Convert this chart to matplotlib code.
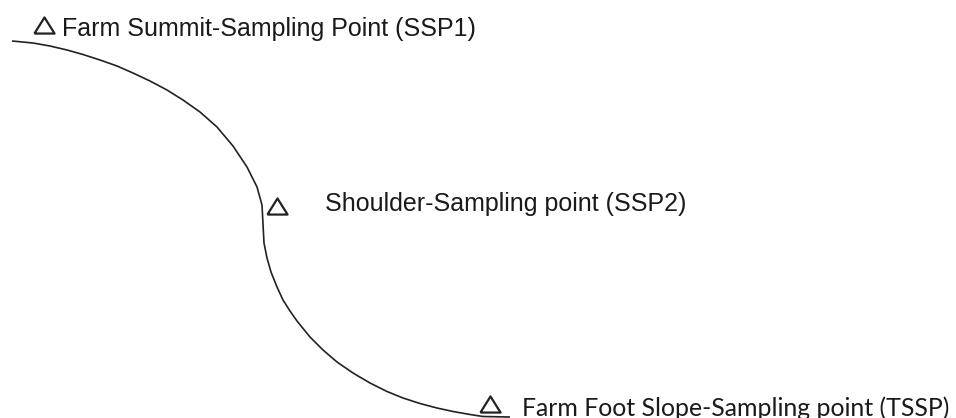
import matplotlib
matplotlib.use("Agg")
import matplotlib.pyplot as plt

# slope profile (x to the right, y downwards)
profile_x = [12, 33, 50, 67, 83, 100, 117, 133, 150, 167, 183, 200, 217,
             233, 247, 257, 262, 263, 264, 267, 271, 277, 283, 290, 297,
             310, 323, 337, 353, 370, 387, 403, 420, 437, 453, 470, 483, 510]
profile_y = [41, 43, 46, 50, 54.5, 60, 66, 73, 81, 90, 100, 112, 127,
             146, 167, 187, 205, 224, 243, 258, 272, 287, 300, 311, 321,
             337, 350, 362, 373, 383, 391.5, 398, 403.5, 408, 411.5, 414.5,
             416.5, 417]

# sampling points and their labels
point_x = [44, 277, 490]
point_y = [25, 206, 404]
labels = ["Farm Summit-Sampling Point (SSP1)",
          "Shoulder-Sampling point (SSP2)",
          "Farm Foot Slope-Sampling point (TSSP)"]
label_x = [62, 325, 522]
label_y = [36, 211, 416]
label_font = ["Liberation Sans", "Liberation Sans", "Lato"]
label_size = [18, 18, 17.9]

fig = plt.figure(figsize=(9.56, 4.18), dpi=100)
ax = fig.add_axes([0, 0, 1, 1])
ax.set_xlim(0, 956)
ax.set_ylim(418, 0)
ax.axis("off")

ax.plot(profile_x, profile_y, color="#222222", lw=1.2,
        solid_joinstyle="round", solid_capstyle="butt")

tri = [(-1, -0.8), (1, -0.8), (0, 0.8), (-1, -0.8)]
ax.plot(point_x, point_y, ls="none", marker=tri, markersize=14.5,
        markerfacecolor="none", markeredgecolor="#222222", markeredgewidth=1.6)

for x, y, s, f, fs in zip(label_x, label_y, labels, label_font, label_size):
    ax.text(x, y, s, family=f, fontsize=fs, color="#1a1a1a",
            ha="left", va="baseline")

fig.savefig("out.png", dpi=100)
